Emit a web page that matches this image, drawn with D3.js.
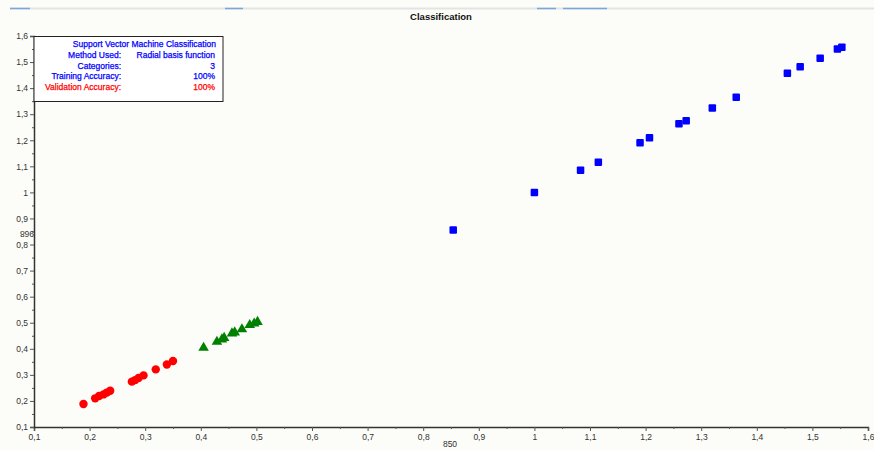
<!DOCTYPE html>
<html>
<head>
<meta charset="utf-8">
<script src="https://cdn.jsdelivr.net/npm/d3@7"></script>
<style>
  html, body { margin: 0; padding: 0; background: #fcfcf8; }
  svg { display: block; font-family: "Liberation Sans", Arial, sans-serif; }
</style>
</head>
<body>
<svg id="chart" width="874" height="450"></svg>
<script>
// Class 1 (red circles): feature 850 vs feature 968
const class1X = [0.189, 0.210, 0.217, 0.225, 0.231, 0.237, 0.276, 0.282, 0.288, 0.297, 0.319, 0.339, 0.350];
const class1Y = [0.188, 0.210, 0.219, 0.225, 0.232, 0.239, 0.274, 0.280, 0.288, 0.298, 0.321, 0.340, 0.353];
// Class 2 (green triangles)
const class2X = [0.405, 0.429, 0.438, 0.442, 0.456, 0.461, 0.474, 0.488, 0.496, 0.502];
const class2Y = [0.404, 0.427, 0.436, 0.442, 0.459, 0.463, 0.475, 0.491, 0.497, 0.503];
// Class 3 (blue squares)
const class3X = [0.854, 1.000, 1.083, 1.115, 1.190, 1.207, 1.260, 1.273, 1.320, 1.363, 1.455, 1.478, 1.514, 1.545, 1.553];
const class3Y = [0.856, 1.000, 1.085, 1.116, 1.190, 1.210, 1.263, 1.275, 1.324, 1.365, 1.457, 1.482, 1.515, 1.550, 1.557];

const xTicks = [0.1, 0.2, 0.3, 0.4, 0.5, 0.6, 0.7, 0.8, 0.9, 1.0, 1.1, 1.2, 1.3, 1.4, 1.5, 1.6];
const yTicks = [0.1, 0.2, 0.3, 0.4, 0.5, 0.6, 0.7, 0.8, 0.9, 1.0, 1.1, 1.2, 1.3, 1.4, 1.5, 1.6];

const infoLabels = ["Method Used:", "Categories:", "Training Accuracy:", "Validation Accuracy:"];
const infoValues = ["Radial basis function", "3", "100%", "100%"];

const svg = d3.select("#chart");
const W = 874, H = 450;
const m = { left: 34, right: 6, top: 36, bottom: 23 };

const fmt = v => d3.format(".1~f")(v).replace(".", ",");

const x = d3.scaleLinear().domain([0.1, 1.6]).range([m.left, W - m.right]);
const y = d3.scaleLinear().domain([0.1, 1.6]).range([H - m.bottom, m.top]);

// faint toolbar line at the very top
svg.append("line").attr("x1", 10).attr("x2", 874).attr("y1", 8.5).attr("y2", 8.5)
  .attr("stroke", "#e4e4e4").attr("stroke-width", 2);
[[10, 30], [225, 243], [537, 556], [563, 607]].forEach(([a, b]) =>
  svg.append("line").attr("x1", a).attr("x2", b).attr("y1", 8.5).attr("y2", 8.5)
    .attr("stroke", "#7aa6dc").attr("stroke-width", 1.5));

// title
svg.append("text").attr("x", 441).attr("y", 20).attr("text-anchor", "middle")
  .attr("font-size", 9.5).attr("font-weight", "bold").attr("fill", "#111")
  .text("Classification");

// minor ticks every 0.05
const minor = d3.range(0.15, 1.6, 0.1);

// x axis
const xAxisG = svg.append("g").attr("transform", `translate(0,${H - m.bottom})`)
  .call(d3.axisBottom(x).tickValues(xTicks).tickFormat(fmt).tickSize(4).tickPadding(3));
svg.append("g").attr("transform", `translate(0,${H - m.bottom})`)
  .call(d3.axisBottom(x).tickValues(minor).tickFormat("").tickSize(2))
  .call(g => g.select(".domain").remove());

// y axis
const yAxisG = svg.append("g").attr("transform", `translate(${m.left},0)`)
  .call(d3.axisLeft(y).tickValues(yTicks).tickFormat(fmt).tickSize(4).tickPadding(2));
svg.append("g").attr("transform", `translate(${m.left},0)`)
  .call(d3.axisLeft(y).tickValues(minor).tickFormat("").tickSize(2))
  .call(g => g.select(".domain").remove());

[xAxisG, yAxisG].forEach(g => {
  g.select(".domain").attr("stroke", "#333").attr("stroke-width", 1.5);
  g.selectAll(".tick text").attr("font-size", 8.5).attr("fill", "#333")
    .attr("font-family", "'Liberation Sans', Arial, sans-serif");
});
svg.selectAll("g .tick line").attr("stroke", "#555");

// axis titles
svg.append("text").attr("x", 450).attr("y", 447).attr("text-anchor", "middle")
  .attr("font-size", 8.5).attr("fill", "#333").text("850");
svg.append("text").attr("transform", "translate(27,233) rotate(180)")
  .attr("text-anchor", "middle").attr("dominant-baseline", "middle")
  .attr("font-size", 8.5).attr("fill", "#333").text("968");

// markers
const plot = svg.append("g");
plot.selectAll("circle.c1").data(class1X.map((v, i) => [v, class1Y[i]])).join("circle")
  .attr("cx", d => x(d[0])).attr("cy", d => y(d[1])).attr("r", 4.2).attr("fill", "#ff0000");

const tri = d3.symbol().type(d3.symbolTriangle).size(48);
plot.selectAll("path.c2").data(class2X.map((v, i) => [v, class2Y[i]])).join("path")
  .attr("d", tri).attr("transform", d => `translate(${x(d[0])},${y(d[1])})`).attr("fill", "#008000");

const sq = 7.5;
plot.selectAll("rect.c3").data(class3X.map((v, i) => [v, class3Y[i]])).join("rect")
  .attr("x", d => x(d[0]) - sq / 2).attr("y", d => y(d[1]) - sq / 2)
  .attr("width", sq).attr("height", sq).attr("rx", 1).attr("fill", "#0000ff");

// info box
const box = svg.append("g");
box.append("rect").attr("x", m.left).attr("y", 36.5).attr("width", 189).attr("height", 65)
  .attr("fill", "#ffffff").attr("stroke", "#222").attr("stroke-width", 1);
const lineY = [47, 58, 68.5, 79, 90];
const boxText = (xp, yp, col, t) => box.append("text").attr("x", xp).attr("y", yp)
  .attr("text-anchor", "end").attr("font-size", 8.5).attr("fill", col)
  .attr("stroke", col).attr("stroke-width", 0.25).text(t);
boxText(216, lineY[0], "#0000ff", "Support Vector Machine Classification");
infoLabels.forEach((t, i) => {
  const col = i === infoLabels.length - 1 ? "#ff0000" : "#0000ff";
  boxText(121, lineY[i + 1], col, t);
  boxText(215, lineY[i + 1], col, infoValues[i]);
});
</script>
</body>
</html>
